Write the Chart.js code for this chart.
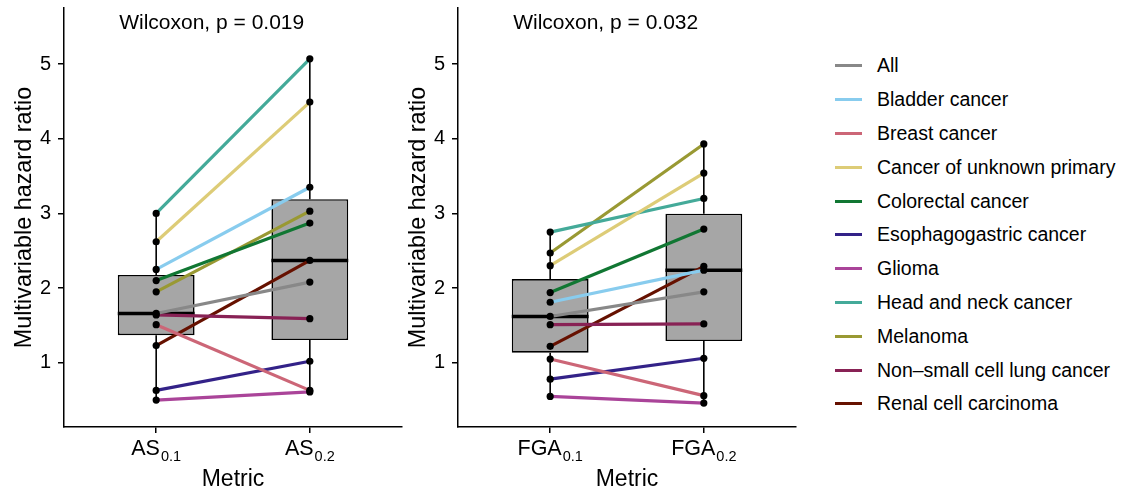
<!DOCTYPE html>
<html><head><meta charset="utf-8">
<script src="https://cdn.jsdelivr.net/npm/chart.js@4.4.1/dist/chart.umd.min.js"></script>
<style>
html,body{margin:0;padding:0;background:#fff;width:1121px;height:492px;overflow:hidden;font-family:"Liberation Sans",Arial,sans-serif;}
.panel{position:absolute;top:0;width:410px;height:492px;}
#legend{position:absolute;left:835px;top:49px;}
.item{display:flex;align-items:center;height:33.8px;font-size:19.5px;color:#000;white-space:nowrap;}
.key{display:inline-block;width:27px;height:3px;margin-right:15px;}
</style></head><body>
<div class="panel" style="left:0px"><canvas id="c1"></canvas></div>
<div class="panel" style="left:394px"><canvas id="c2"></canvas></div>
<div id="legend"></div>
<script>
// ---- data ----
const groups = ['All','Bladder cancer','Breast cancer','Cancer of unknown primary','Colorectal cancer','Esophagogastric cancer','Glioma','Head and neck cancer','Melanoma','Non\u2013small cell lung cancer','Renal cell carcinoma'];
const groupColors = ['#888888','#88CCEE','#CC6677','#DDCC77','#117733','#332288','#AA4499','#44AA99','#999933','#882255','#661100'];
const as01  = [1.66, 2.25, 1.51, 2.62, 2.10, 0.63, 0.50, 3.00, 1.95, 1.64, 1.23];
const as02  = [2.08, 3.35, 0.63, 4.49, 2.87, 1.02, 0.61, 5.07, 3.03, 1.59, 2.37];
const fga01 = [1.62, 1.81, 1.05, 2.30, 1.94, 0.78, 0.55, 2.75, 2.47, 1.51, 1.22];
const fga02 = [1.95, 2.24, 0.56, 3.54, 2.79, 1.06, 0.46, 3.20, 3.93, 1.52, 2.29];
const asTickMain = ['AS','AS'];
const fgaTickMain = ['FGA','FGA'];
const tickSub = ['0.1','0.2'];
const xPositions = [1, 2];
const yTicks = [1, 2, 3, 4, 5];
const pLabels = ['Wilcoxon, p = 0.019', 'Wilcoxon, p = 0.032'];
const yTitle = 'Multivariable hazard ratio';
const xTitle = 'Metric';

const FONT = '"Liberation Sans", Arial, sans-serif';

function quantile(arr, p){
  const s = arr.slice().sort((a,b)=>a-b);
  const h = (s.length-1)*p; const lo = Math.floor(h); const hi = Math.ceil(h);
  return s[lo] + (s[hi]-s[lo])*(h-lo);
}
function boxStats(arr){
  const q1 = quantile(arr,0.25), med = quantile(arr,0.5), q3 = quantile(arr,0.75);
  const iqr = q3-q1;
  const inside = arr.filter(v => v >= q1-1.5*iqr && v <= q3+1.5*iqr);
  return {q1, med, q3, lo: Math.min(...inside), hi: Math.max(...inside)};
}

const textPlugin = {
  id: 'txt',
  afterDraw(chart, args, opts){
    const ctx = chart.ctx, xs = chart.scales.x, a = chart.chartArea;
    ctx.save();
    ctx.fillStyle = '#000';
    // p-value label
    ctx.font = '21px ' + FONT; ctx.textAlign = 'left'; ctx.textBaseline = 'alphabetic';
    ctx.fillText(opts.pLabel, xs.getPixelForValue(xPositions[0]) - 37, 28.5);
    // x tick labels with subscripts
    opts.main.forEach((m, i) => {
      ctx.font = '21.5px ' + FONT; const wm = ctx.measureText(m).width;
      ctx.font = '14.5px ' + FONT; const ws = ctx.measureText(opts.sub[i]).width;
      const cx = xs.getPixelForValue(xPositions[i]);
      const x0 = cx - (wm + ws + 1)/2;
      ctx.font = '21.5px ' + FONT; ctx.fillText(m, x0, 455);
      ctx.font = '14.5px ' + FONT; ctx.fillText(opts.sub[i], x0 + wm + 1, 460.5);
    });
    // x title
    ctx.font = '23px ' + FONT; ctx.textAlign = 'center';
    ctx.fillText(xTitle, (a.left + a.right)/2, 486);
    // y title
    ctx.save();
    ctx.translate(31, (a.top + a.bottom)/2);
    ctx.rotate(-Math.PI/2);
    ctx.font = '23.4px ' + FONT; ctx.textAlign = 'center';
    ctx.fillText(yTitle, 0, 0);
    ctx.restore();
    ctx.restore();
  }
};

function makePanel(id, v1, v2, main, pLabel){
  const s = [boxStats(v1), boxStats(v2)];
  const datasets = [];
  // group lines
  groups.forEach((g, k) => {
    datasets.push({type:'scatter', label:g, showLine:true, data:[{x:xPositions[0], y:v1[k]},{x:xPositions[1], y:v2[k]}],
      borderColor: groupColors[k], borderWidth: 3.2, pointRadius: 0, order: 2});
  });
  // points
  const pts = [];
  v1.forEach(v => pts.push({x:xPositions[0], y:v}));
  v2.forEach(v => pts.push({x:xPositions[1], y:v}));
  datasets.push({type:'scatter', label:'points', data: pts, pointRadius: 3.6, pointBackgroundColor:'#000', pointBorderWidth:0, order: 1});
  // whiskers and medians
  s.forEach((b, i) => {
    const xv = xPositions[i];
    datasets.push({type:'scatter', showLine:true, data:[{x:xv,y:b.lo},{x:xv,y:b.q1}], borderColor:'#000', borderWidth:1.6, pointRadius:0, order:3});
    datasets.push({type:'scatter', showLine:true, data:[{x:xv,y:b.q3},{x:xv,y:b.hi}], borderColor:'#000', borderWidth:1.6, pointRadius:0, order:3});
    datasets.push({type:'scatter', showLine:true, data:[{x:xv-0.25,y:b.med},{x:xv+0.25,y:b.med}], borderColor:'#000', borderWidth:3.5, pointRadius:0, order:3});
  });
  // boxes
  datasets.push({type:'bar', data: s.map((b,i)=>({x:xPositions[i], y:[b.q1,b.q3]})),
    backgroundColor:'#A6A6A6', borderColor:'#000', borderWidth:1.6, borderSkipped:false,
    barPercentage:0.5, categoryPercentage:1, order:4});

  return new Chart(document.getElementById(id), {
    type: 'scatter',
    data: {datasets},
    options: {
      responsive: true, maintainAspectRatio: false, animation: false,
      layout: {padding: {top: 8, right: 8, left: 0, bottom: 0}},
      plugins: {legend:{display:false}, tooltip:{enabled:false}, txt: {pLabel, main, sub: tickSub}},
      scales: {
        x: {type:'linear', min:0.4, max:2.6, offset:false,
            afterBuildTicks: sc => { sc.ticks = xPositions.map(v => ({value:v})); },
            afterFit: sc => { sc.height = 65; sc.paddingLeft = 0; sc.paddingRight = 0; },
            ticks: {display:false},
            grid: {display:true, drawOnChartArea:false, drawTicks:true, tickLength:6, color:'#000', lineWidth:1.5, offset:false},
            border: {display:true, color:'#000', width:1.5}},
        y: {type:'linear', min:0.14, max:5.75,
            afterBuildTicks: sc => { sc.ticks = yTicks.map(v => ({value:v})); },
            afterFit: sc => { sc.width = 64; sc.paddingTop = 0; sc.paddingBottom = 0; },
            ticks: {color:'#000', font:{size:20, family:FONT}, padding:7, callback: v => String(v)},
            grid: {display:true, drawOnChartArea:false, drawTicks:true, tickLength:6, color:'#000', lineWidth:1.5},
            border: {display:true, color:'#000', width:1.5}}
      }
    },
    plugins: [textPlugin]
  });
}

makePanel('c1', as01, as02, asTickMain, pLabels[0]);
makePanel('c2', fga01, fga02, fgaTickMain, pLabels[1]);

// legend
const lg = document.getElementById('legend');
groups.forEach((g, k) => {
  const it = document.createElement('div'); it.className = 'item';
  const key = document.createElement('span'); key.className = 'key'; key.style.background = groupColors[k];
  const t = document.createElement('span'); t.textContent = g;
  it.appendChild(key); it.appendChild(t); lg.appendChild(it);
});
</script>
</body></html>
